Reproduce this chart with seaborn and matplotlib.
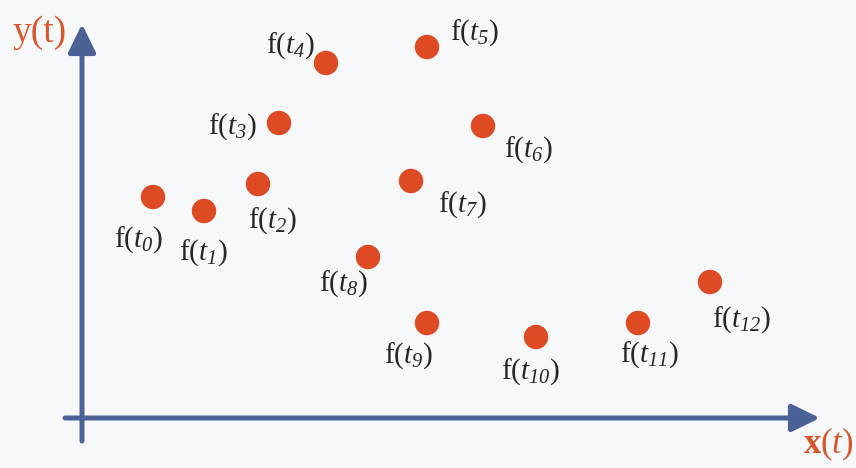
import matplotlib
matplotlib.use("Agg")
import matplotlib.pyplot as plt
import seaborn as sns
import pandas as pd

# Sample points f(t_i) in the x(t)/y(t) plane
labels = [f"t{i}" for i in range(13)]
x_vals = [7.1, 12.2, 17.6, 19.7, 24.4, 34.5, 40.1, 32.9, 28.6, 34.5, 45.4, 55.6, 62.8]
y_vals = [22.1, 20.7, 23.4, 29.5, 35.5, 37.1, 29.2, 23.7, 16.1, 9.5, 8.1, 9.5, 13.6]

# Label placement relative to each point, in pixels (right, down)
label_offsets = [(-15, 43), (-1, 42), (14, 37), (-47, 4), (-36, -17), (47, -14),
                 (45, 24), (51, 24), (-25, 27), (-19, 33), (-5, 35), (12, 32), (32, 38)]

df = pd.DataFrame({"x": x_vals, "y": y_vals, "name": labels})

sns.set_style("white")
plt.rcParams["font.family"] = ["Liberation Serif", "DejaVu Serif"]
plt.rcParams["mathtext.fontset"] = "custom"
plt.rcParams["mathtext.rm"] = "Liberation Serif"
plt.rcParams["mathtext.it"] = "Liberation Serif:italic"
plt.rcParams["mathtext.bf"] = "Liberation Serif:bold"
# italic alias usable for digits (mathtext sends digits in \mathit to roman)
plt.rcParams["mathtext.sf"] = "Liberation Serif:italic"

BG = "#F7F8FA"
AXIS_BLUE = "#4A6296"
DOT_RED = "#DE4A24"
TITLE_RED = "#D9552C"
INK = "#262626"

fig = plt.figure(figsize=(8.56, 4.68), dpi=100, facecolor=BG)
ax = fig.add_axes([0, 0, 1, 1])
ax.set_facecolor(BG)
ax.set_xlim(-8.2, 77.4)
ax.set_ylim(-5.0, 41.8)
ax.axis("off")

# Coordinate axes with arrow heads
arrow_kw = dict(arrowstyle="-|>,head_length=0.86,head_width=0.42",
                mutation_scale=20, lw=3.6, color=AXIS_BLUE,
                shrinkA=0, shrinkB=0)
ax.annotate("", xy=(0, 39.4), xytext=(0, -2.3), arrowprops=arrow_kw, zorder=1)
ax.annotate("", xy=(73.8, 0), xytext=(-1.7, 0), arrowprops=arrow_kw, zorder=1)

sns.scatterplot(data=df, x="x", y="y", ax=ax, s=310, color=DOT_RED,
                edgecolor="none", linewidth=0, legend=False, zorder=3)

for (xv, yv, name), (dx, dy) in zip(zip(x_vals, y_vals, labels), label_offsets):
    idx = name[1:]
    ax.annotate(r"f$(\mathit{t}_{\mathsf{" + idx + r"}})$", xy=(xv, yv),
                xytext=(dx * 0.72, -dy * 0.72), textcoords="offset points",
                ha="center", va="center", fontsize=21, color=INK)

ax.text(-4.2, 38.5, "y(t)", fontsize=27, color=TITLE_RED,
        ha="center", va="center")
ax.text(77.2, -2.6, r"$\mathbf{x}(t)$", fontsize=25, color=TITLE_RED,
        ha="right", va="center")

fig.savefig("out.png", dpi=100, facecolor=BG)
